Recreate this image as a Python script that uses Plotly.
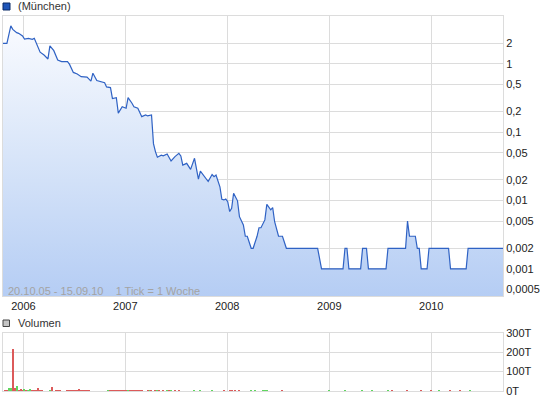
import pandas as pd
import plotly.graph_objects as go

# weekly ticks ("1 Tick = 1 Woche"), counted from the first quote date
START = "2005-10-20"
END = "2010-09-15"

price_weeks = [
    0, 2, 4, 5, 7, 8, 10, 11, 13, 15, 16, 17, 19, 21, 23, 24, 26, 28, 30, 33,
    34, 36, 38, 40, 43, 45, 46, 48, 50, 52, 53, 55, 56, 58, 59, 61, 63, 64, 66, 67,
    69, 71, 73, 74, 76, 77, 78, 79, 81, 82, 84, 86, 88, 90, 91, 92, 94, 96, 98, 100,
    101, 103, 105, 107, 108, 109, 111, 112, 113, 114, 115, 116, 117, 118, 120, 121, 123, 124, 125, 127,
    128, 130, 131, 132, 134, 135, 137, 138, 139, 141, 143, 145, 161, 163, 174, 175, 176, 177, 183, 184,
    186, 187, 196, 197, 206, 207, 208, 211, 212, 213, 214, 217, 218, 228, 229, 237, 238, 256,
]
price = [
    2.0, 2.0, 3.6, 3.2, 2.86, 2.8, 2.56, 2.31, 2.36, 2.29, 2.36, 2.04, 1.48, 1.35, 1.18, 1.83, 1.56, 1.14, 1.08, 1.08,
    0.99, 0.75, 0.71, 0.65, 0.64, 0.56, 0.73, 0.57, 0.55, 0.53, 0.46, 0.45, 0.31, 0.32, 0.19, 0.236, 0.224, 0.32, 0.265, 0.236,
    0.224, 0.169, 0.179, 0.173, 0.179, 0.068, 0.052, 0.043, 0.046, 0.045, 0.048, 0.038, 0.044, 0.049, 0.045, 0.033, 0.035, 0.0286, 0.0415, 0.0205,
    0.027, 0.023, 0.019, 0.024, 0.0224, 0.0236, 0.0159, 0.0104, 0.0102, 0.0105, 0.0096, 0.0069, 0.0077, 0.0128, 0.0099, 0.0058, 0.0044, 0.003, 0.003, 0.002,
    0.002, 0.003, 0.004, 0.004, 0.0052, 0.0088, 0.0073, 0.0079, 0.0049, 0.003, 0.003, 0.002, 0.002, 0.001, 0.001, 0.002, 0.002, 0.001, 0.001, 0.002,
    0.002, 0.001, 0.001, 0.002, 0.002, 0.005, 0.003, 0.003, 0.002, 0.002, 0.001, 0.001, 0.002, 0.002, 0.001, 0.001, 0.002, 0.002,
]

# volume in thousands (T), split by up / down week
up_weeks = [3, 4, 7, 11, 13, 14, 24, 54, 64, 75, 79, 84, 86, 98, 101, 107, 127, 129, 133, 134,
            135, 167, 175, 184, 189, 197, 223, 239]
up_vol = [15, 15, 27, 10, 5, 10, 5, 7, 5, 2, 2, 2, 2, 2, 2, 2, 2, 2, 2, 2,
          2, 2, 2, 2, 2, 2, 2, 5]
down_weeks = [1, 2, 5, 6, 8, 9, 10, 12, 15, 16, 17, 18, 19, 20, 25, 27, 28, 29, 33, 34,
              35, 36, 37, 38, 39, 40, 41, 42, 43, 44, 55, 56, 57, 58, 59, 60, 61, 62, 63, 65,
              66, 67, 68, 69, 70, 71, 74, 76, 78, 80, 82, 85, 88, 90, 113, 116, 117, 119, 121, 143,
              199, 207, 214, 219, 229, 234]
down_vol = [5, 3, 217, 15, 3, 10, 3, 3, 7, 7, 7, 15, 7, 3, 20, 5, 3, 7, 2, 2,
            2, 2, 2, 2, 10, 2, 2, 2, 2, 2, 5, 2, 2, 2, 2, 2, 2, 2, 2, 2,
            2, 2, 2, 2, 2, 2, 2, 2, 2, 2, 2, 2, 2, 2, 2, 2, 2, 2, 2, 2,
            2, 2, 2, 2, 2, 2]

price_ticks = [2, 1, 0.5, 0.2, 0.1, 0.05, 0.02, 0.01, 0.005, 0.002, 0.001, 0.0005]
vol_ticks = [0, 100, 200, 300]
years = ["2006", "2007", "2008", "2009", "2010"]

FONT = "Liberation Sans, Arial, sans-serif"
GRID = "#dcdcdc"
W, H = 545, 401
L, R, T, B = 3, 42, 16, 10


def weeks_to_dates(weeks):
    return pd.Timestamp(START) + pd.to_timedelta([w * 7 for w in weeks], unit="D")


def px(x):
    return (x - L) / (W - L - R)


def py(y):
    return (H - B - y) / (H - T - B)


def de_num(v):
    return f"{v:g}".replace(".", ",")


fig = go.Figure()

fig.add_trace(
    go.Scatter(
        x=weeks_to_dates(price_weeks),
        y=price,
        mode="lines",
        line=dict(color="#2f62c4", width=1.2),
        fill="tozeroy",
        fillgradient=dict(
            type="vertical",
            start=0.0004,
            stop=4.8,
            colorscale=[[0, "#b5cdf4"], [0.5, "#d8e5f9"], [1, "#fbfcff"]],
        ),
        hoverinfo="skip",
        showlegend=False,
        xaxis="x",
        yaxis="y",
    )
)

bar_width = 0.6 * 7 * 24 * 3600 * 1000
fig.add_trace(
    go.Bar(
        x=weeks_to_dates(up_weeks),
        y=up_vol,
        width=bar_width,
        marker=dict(color="#5fd65f", line=dict(width=0)),
        showlegend=False,
        xaxis="x2",
        yaxis="y2",
    )
)
fig.add_trace(
    go.Bar(
        x=weeks_to_dates(down_weeks),
        y=down_vol,
        width=bar_width,
        marker=dict(color="#dc5a5a", line=dict(width=0)),
        showlegend=False,
        xaxis="x2",
        yaxis="y2",
    )
)

xcommon = dict(
    type="date",
    range=[START, END],
    tickvals=[f"{y}-01-01" for y in years],
    ticktext=years,
    showgrid=True,
    gridcolor=GRID,
    gridwidth=1,
    showline=True,
    mirror=True,
    linecolor=GRID,
    linewidth=1,
    ticks="",
    zeroline=False,
    tickfont=dict(family=FONT, size=11, color="#222"),
)

fig.update_layout(
    width=W,
    height=H,
    margin=dict(l=L, r=R, t=T, b=B),
    paper_bgcolor="white",
    plot_bgcolor="white",
    bargap=0,
    barmode="overlay",
    xaxis=dict(xcommon, anchor="y"),
    xaxis2=dict(xcommon, anchor="y2", matches="x", showticklabels=False),
    yaxis=dict(
        type="log",
        domain=[py(296), 1],
        range=[-3.397, 0.7005],
        side="right",
        anchor="x",
        tickvals=price_ticks,
        ticktext=[de_num(v) for v in price_ticks],
        showgrid=True,
        gridcolor=GRID,
        showline=True,
        mirror=True,
        linecolor=GRID,
        ticks="",
        tickfont=dict(family=FONT, size=11, color="#222"),
    ),
    yaxis2=dict(
        domain=[0, py(332.7)],
        range=[0, 300],
        side="right",
        anchor="x2",
        tickvals=vol_ticks,
        ticktext=[f"{v}T" for v in vol_ticks],
        showgrid=True,
        gridcolor=GRID,
        showline=True,
        mirror=True,
        linecolor=GRID,
        zeroline=False,
        ticks="",
        tickfont=dict(family=FONT, size=11, color="#222"),
    ),
)

# legend-like headers above both panels
shapes = [
    dict(type="rect", xref="paper", yref="paper",
         x0=px(3), x1=px(10), y0=py(10), y1=py(3),
         fillcolor="#1f55b8", line=dict(color="#0b2a66", width=1)),
    dict(type="rect", xref="paper", yref="paper",
         x0=px(3), x1=px(9.5), y0=py(326.5), y1=py(320),
         fillcolor="#c4c4c4", line=dict(color="#444", width=1)),
]
annotations = [
    dict(text="(München)", xref="paper", yref="paper", x=px(16), y=py(6.5),
         xanchor="left", yanchor="middle", showarrow=False,
         font=dict(family=FONT, size=11, color="#333")),
    dict(text="Volumen", xref="paper", yref="paper", x=px(16), y=py(323),
         xanchor="left", yanchor="middle", showarrow=False,
         font=dict(family=FONT, size=11, color="#333")),
    dict(text="20.10.05 - 15.09.10\u00a0\u00a0\u00a0 1 Tick = 1 Woche",
         xref="paper", yref="paper", x=px(6), y=py(291),
         xanchor="left", yanchor="middle", showarrow=False,
         font=dict(family=FONT, size=11, color="#a3a3a3")),
]
fig.update_layout(shapes=shapes, annotations=annotations)

# the page's default body margin would shift the 545x401 figure off-window
fig.write_html(
    "out.html",
    config={"displayModeBar": False},
    post_script="document.body.style.margin='0';",
)
